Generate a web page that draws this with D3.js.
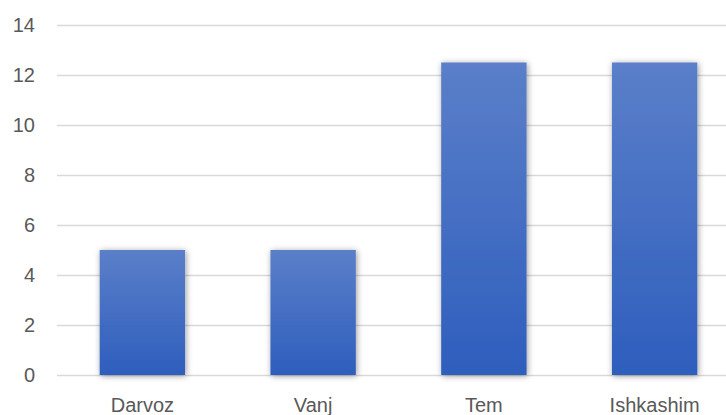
<!DOCTYPE html>
<html>
<head>
<meta charset="utf-8">
<script src="https://cdn.jsdelivr.net/npm/d3@7"></script>
<style>
  html, body { margin: 0; padding: 0; background: #ffffff; }
  svg { display: block; }
</style>
</head>
<body>
<svg id="chart" width="726" height="415"></svg>
<script>
// District values
const categories = ["Darvoz", "Vanj", "Tem", "Ishkashim"];
const values = [5, 5, 12.5, 12.5];
const yTicks = [0, 2, 4, 6, 8, 10, 12, 14];

const W = 726, H = 415;
const margin = { left: 57, right: -14, top: 25, bottom: 40 };

const svg = d3.select("#chart");

const x = d3.scaleBand()
  .domain(categories)
  .range([margin.left, W - margin.right])
  .paddingInner(0.5)
  .paddingOuter(0.25);

const y = d3.scaleLinear()
  .domain([0, 14])
  .range([H - margin.bottom, margin.top]);

const defs = svg.append("defs");
const grad = defs.append("linearGradient")
  .attr("id", "barGrad")
  .attr("x1", 0).attr("y1", 0).attr("x2", 0).attr("y2", 1);
grad.append("stop").attr("offset", "0%").attr("stop-color", "#5b7fc9");
grad.append("stop").attr("offset", "100%").attr("stop-color", "#2e5ebd");

const shadow = defs.append("filter")
  .attr("id", "barShadow")
  .attr("x", "-20%").attr("y", "-20%").attr("width", "140%").attr("height", "140%");
shadow.append("feDropShadow")
  .attr("dx", 1).attr("dy", 1)
  .attr("stdDeviation", 3)
  .attr("flood-color", "#000000")
  .attr("flood-opacity", 0.4);

// Gridlines and value axis labels
const yAxis = d3.axisLeft(y)
  .tickValues(yTicks)
  .tickSize(-(W - margin.left))
  .tickPadding(22)
  .tickFormat(d3.format("d"));

const gy = svg.append("g")
  .attr("transform", `translate(${margin.left},0)`)
  .call(yAxis);
gy.select(".domain").remove();
gy.selectAll(".tick line")
  .attr("stroke", "#d9d9d9")
  .attr("stroke-width", 1.5);
gy.selectAll(".tick text")
  .attr("fill", "#595959")
  .style("font-family", "'Liberation Sans', Arial, sans-serif")
  .style("font-size", "20px");

// Bars
svg.append("g")
  .selectAll("rect")
  .data(values)
  .join("rect")
  .attr("x", (d, i) => x(categories[i]))
  .attr("width", x.bandwidth())
  .attr("y", d => y(d))
  .attr("height", d => y(0) - y(d))
  .attr("fill", "url(#barGrad)")
  .attr("filter", "url(#barShadow)");

// Category axis
const xAxis = d3.axisBottom(x).tickSize(0).tickPadding(23);
const gx = svg.append("g")
  .attr("transform", `translate(0,${y(0)})`)
  .call(xAxis);
gx.select(".domain").remove();
gx.selectAll(".tick text")
  .attr("fill", "#595959")
  .style("font-family", "'Liberation Sans', Arial, sans-serif")
  .style("font-size", "20px");
</script>
</body>
</html>
